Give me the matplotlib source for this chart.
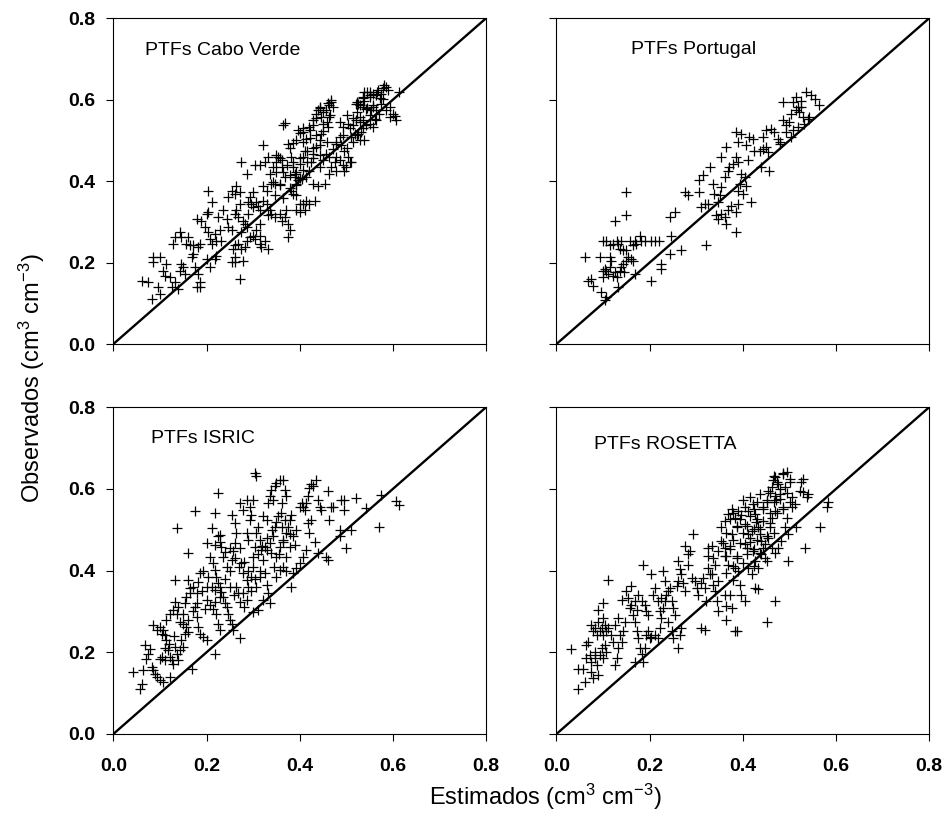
import matplotlib
matplotlib.use("Agg")
import matplotlib.pyplot as plt

# ===== DATA =====
cv_est = [0.061, 0.075, 0.082, 0.086, 0.086, 0.100, 0.096, 0.100, 0.107, 0.111, 0.114, 0.121, 0.125, 0.132, 0.139, 0.143, 0.146, 0.150, 0.154,
          0.132, 0.129, 0.143, 0.146, 0.157, 0.161, 0.164, 0.168, 0.171, 0.175, 0.182, 0.186, 0.179, 0.186, 0.171, 0.182, 0.186,
          0.179, 0.189, 0.196, 0.200, 0.204, 0.204, 0.207, 0.211, 0.200, 0.207, 0.218, 0.221, 0.204, 0.211, 0.225, 0.229, 0.218,
          0.221, 0.232, 0.236, 0.243, 0.246, 0.254, 0.246, 0.254, 0.261, 0.264, 0.271, 0.271, 0.261, 0.264, 0.268, 0.279, 0.275,
          0.282, 0.286, 0.289, 0.289, 0.293, 0.300, 0.296, 0.300, 0.307, 0.311, 0.314, 0.314, 0.307, 0.300, 0.293, 0.286, 0.282,
          0.268, 0.261, 0.257, 0.261, 0.275, 0.279, 0.271, 0.261, 0.254, 0.304, 0.314, 0.325, 0.332, 0.314, 0.318, 0.275, 0.286,
          0.304, 0.314, 0.321, 0.325, 0.332, 0.336, 0.343, 0.350, 0.354, 0.361, 0.361, 0.368, 0.357, 0.346, 0.339, 0.329, 0.321,
          0.321, 0.329, 0.336, 0.332, 0.339, 0.346, 0.357, 0.361, 0.368, 0.371, 0.375, 0.379, 0.375, 0.364, 0.375, 0.382, 0.386,
          0.389, 0.382, 0.386, 0.393, 0.400, 0.407, 0.414, 0.421, 0.432, 0.411, 0.400, 0.393, 0.389, 0.393, 0.396, 0.404, 0.400,
          0.407, 0.411, 0.396, 0.407, 0.414, 0.421, 0.429, 0.436, 0.439, 0.446, 0.443, 0.450, 0.457, 0.464, 0.468, 0.471, 0.464,
          0.461, 0.446, 0.443, 0.436, 0.429, 0.425, 0.421, 0.414, 0.429, 0.439, 0.454, 0.443, 0.450, 0.457, 0.464, 0.468, 0.475,
          0.464, 0.479, 0.486, 0.496, 0.500, 0.511, 0.504, 0.496, 0.489, 0.486, 0.479, 0.471, 0.493, 0.504, 0.514, 0.521, 0.529,
          0.536, 0.543, 0.532, 0.525, 0.518, 0.511, 0.529, 0.539, 0.550, 0.557, 0.561, 0.564, 0.557, 0.543, 0.536, 0.525, 0.521,
          0.539, 0.550, 0.557, 0.564, 0.575, 0.579, 0.582, 0.586, 0.589, 0.593, 0.593, 0.600, 0.604, 0.607, 0.614, 0.539, 0.536,
          0.550, 0.568, 0.575, 0.586, 0.571, 0.564, 0.554,
          # dense core
          0.368, 0.443, 0.451, 0.461, 0.468, 0.436, 0.429, 0.422, 0.408, 0.400, 0.393, 0.386, 0.379, 0.408, 0.422, 0.436, 0.451,
          0.458, 0.465, 0.415, 0.429, 0.443, 0.458, 0.400, 0.415, 0.429, 0.443, 0.386, 0.372, 0.357, 0.350, 0.365, 0.379, 0.393,
          0.408, 0.350, 0.343, 0.357, 0.379, 0.393, 0.400, 0.347, 0.365, 0.479, 0.494, 0.508, 0.479, 0.494, 0.508, 0.486, 0.501,
          0.515, 0.522, 0.529, 0.522, 0.536, 0.551, 0.544, 0.551, 0.529, 0.544, 0.565, 0.572, 0.579, 0.558, 0.522, 0.515, 0.536,
          0.501]
cv_obs = [0.156, 0.152, 0.111, 0.201, 0.213, 0.213, 0.139, 0.123, 0.180, 0.168, 0.197, 0.164, 0.139, 0.152, 0.135, 0.180, 0.197, 0.189, 0.172,
          0.262, 0.246, 0.275, 0.262, 0.246, 0.262, 0.242, 0.213, 0.221, 0.189, 0.172, 0.152, 0.139, 0.139, 0.242, 0.238, 0.246,
          0.307, 0.303, 0.287, 0.320, 0.324, 0.275, 0.258, 0.246, 0.209, 0.189, 0.209, 0.217, 0.377, 0.348, 0.311, 0.279, 0.270,
          0.254, 0.254, 0.328, 0.307, 0.287, 0.279, 0.361, 0.377, 0.369, 0.389, 0.373, 0.344, 0.320, 0.328, 0.311, 0.303, 0.275,
          0.295, 0.287, 0.320, 0.348, 0.361, 0.373, 0.344, 0.336, 0.348, 0.340, 0.328, 0.295, 0.279, 0.266, 0.262, 0.254, 0.238,
          0.246, 0.242, 0.234, 0.213, 0.234, 0.205, 0.160, 0.201, 0.201, 0.258, 0.266, 0.254, 0.234, 0.246, 0.238, 0.447, 0.418,
          0.439, 0.439, 0.488, 0.447, 0.459, 0.418, 0.434, 0.447, 0.459, 0.451, 0.434, 0.410, 0.393, 0.393, 0.393, 0.377, 0.389,
          0.352, 0.344, 0.328, 0.316, 0.320, 0.311, 0.320, 0.303, 0.311, 0.328, 0.295, 0.279, 0.262, 0.537, 0.492, 0.459, 0.434,
          0.410, 0.377, 0.369, 0.365, 0.344, 0.344, 0.352, 0.344, 0.352, 0.328, 0.324, 0.328, 0.418, 0.393, 0.402, 0.406, 0.443,
          0.459, 0.475, 0.525, 0.520, 0.504, 0.533, 0.549, 0.566, 0.574, 0.557, 0.582, 0.541, 0.574, 0.586, 0.594, 0.582, 0.557,
          0.533, 0.516, 0.500, 0.484, 0.467, 0.447, 0.426, 0.410, 0.393, 0.389, 0.393, 0.434, 0.451, 0.467, 0.459, 0.434, 0.447,
          0.418, 0.426, 0.451, 0.426, 0.434, 0.447, 0.459, 0.475, 0.488, 0.508, 0.492, 0.480, 0.533, 0.541, 0.537, 0.549, 0.557,
          0.549, 0.537, 0.520, 0.516, 0.516, 0.508, 0.500, 0.500, 0.541, 0.533, 0.553, 0.574, 0.582, 0.578, 0.582, 0.590, 0.590,
          0.598, 0.607, 0.615, 0.611, 0.615, 0.602, 0.635, 0.631, 0.623, 0.582, 0.557, 0.566, 0.561, 0.549, 0.619, 0.619, 0.607,
          0.619, 0.623, 0.590, 0.574, 0.566, 0.549, 0.574,
          # dense core
          0.542, 0.579, 0.571, 0.591, 0.600, 0.555, 0.538, 0.526, 0.530, 0.518, 0.501, 0.493, 0.481, 0.497, 0.505, 0.514, 0.522,
          0.546, 0.563, 0.473, 0.481, 0.489, 0.497, 0.456, 0.448, 0.456, 0.464, 0.448, 0.440, 0.456, 0.464, 0.423, 0.415, 0.423,
          0.428, 0.423, 0.399, 0.391, 0.382, 0.391, 0.407, 0.366, 0.358, 0.460, 0.440, 0.448, 0.497, 0.514, 0.530, 0.546, 0.563,
          0.555, 0.571, 0.587, 0.595, 0.604, 0.612, 0.579, 0.563, 0.546, 0.620, 0.620, 0.604, 0.628, 0.587, 0.514, 0.497, 0.530,
          0.481]

pt_est = [0.061, 0.068, 0.075, 0.079, 0.093, 0.096, 0.100, 0.104, 0.107, 0.100, 0.104, 0.107, 0.111, 0.114, 0.118, 0.114, 0.121, 0.125,
          0.129, 0.132, 0.136, 0.139, 0.143, 0.146, 0.150, 0.154, 0.161, 0.164, 0.168, 0.100, 0.107, 0.114, 0.121, 0.129, 0.132,
          0.136, 0.139, 0.143, 0.150, 0.157, 0.164, 0.168, 0.171, 0.179, 0.182, 0.189, 0.204, 0.211, 0.221, 0.246, 0.243, 0.225,
          0.225, 0.204, 0.268, 0.321, 0.125, 0.150, 0.150, 0.243, 0.254, 0.275, 0.282, 0.307, 0.311, 0.318, 0.325, 0.307, 0.314,
          0.329, 0.336, 0.339, 0.346, 0.350, 0.354, 0.354, 0.364, 0.343, 0.346, 0.354, 0.361, 0.364, 0.368, 0.375, 0.386, 0.389,
          0.386, 0.418, 0.361, 0.368, 0.371, 0.379, 0.386, 0.389, 0.396, 0.393, 0.389, 0.400, 0.407, 0.411, 0.404, 0.386, 0.389,
          0.396, 0.407, 0.414, 0.421, 0.425, 0.436, 0.443, 0.450, 0.454, 0.439, 0.457, 0.443, 0.450, 0.461, 0.468, 0.475, 0.479,
          0.486, 0.493, 0.500, 0.504, 0.507, 0.514, 0.518, 0.521, 0.525, 0.529, 0.532, 0.539, 0.543, 0.486, 0.507, 0.514, 0.525,
          0.536, 0.546, 0.554, 0.564, 0.504, 0.493, 0.479, 0.518]
pt_obs = [0.213, 0.156, 0.160, 0.143, 0.213, 0.127, 0.164, 0.107, 0.115, 0.180, 0.184, 0.180, 0.172, 0.189, 0.205, 0.213, 0.168, 0.176,
          0.164, 0.139, 0.180, 0.189, 0.197, 0.176, 0.205, 0.213, 0.209, 0.205, 0.172, 0.254, 0.254, 0.242, 0.246, 0.254, 0.246,
          0.234, 0.254, 0.230, 0.230, 0.254, 0.242, 0.254, 0.246, 0.266, 0.254, 0.254, 0.254, 0.254, 0.254, 0.266, 0.221, 0.197,
          0.184, 0.156, 0.230, 0.242, 0.303, 0.373, 0.316, 0.311, 0.324, 0.373, 0.365, 0.373, 0.336, 0.344, 0.344, 0.402, 0.414,
          0.434, 0.393, 0.369, 0.348, 0.365, 0.385, 0.459, 0.484, 0.316, 0.307, 0.320, 0.311, 0.295, 0.328, 0.340, 0.324, 0.344,
          0.275, 0.348, 0.410, 0.426, 0.434, 0.443, 0.459, 0.447, 0.418, 0.393, 0.377, 0.369, 0.389, 0.451, 0.410, 0.520, 0.496,
          0.516, 0.488, 0.508, 0.504, 0.475, 0.475, 0.480, 0.484, 0.471, 0.434, 0.426, 0.508, 0.525, 0.529, 0.520, 0.504, 0.496,
          0.549, 0.537, 0.545, 0.566, 0.525, 0.574, 0.582, 0.570, 0.582, 0.557, 0.541, 0.553, 0.557, 0.594, 0.594, 0.607, 0.598,
          0.619, 0.611, 0.602, 0.586, 0.508, 0.520, 0.492, 0.533]

is_est = [0.043, 0.061, 0.057, 0.064, 0.068, 0.079, 0.071, 0.075, 0.082, 0.086, 0.089, 0.093, 0.100, 0.107, 0.086, 0.093, 0.100, 0.104,
          0.107, 0.111, 0.114, 0.118, 0.121, 0.125, 0.129, 0.132, 0.136, 0.139, 0.143, 0.146, 0.150, 0.154, 0.157, 0.161, 0.121,
          0.104, 0.111, 0.100, 0.114, 0.121, 0.129, 0.132, 0.136, 0.139, 0.143, 0.150, 0.154, 0.157, 0.164, 0.161, 0.164, 0.171,
          0.179, 0.182, 0.186, 0.193, 0.175, 0.179, 0.182, 0.186, 0.193, 0.200, 0.168, 0.218, 0.132, 0.161, 0.136, 0.175, 0.200,
          0.207, 0.211, 0.218, 0.225, 0.214, 0.218, 0.221, 0.225, 0.229, 0.232, 0.236, 0.239, 0.243, 0.246, 0.250, 0.254, 0.257,
          0.271, 0.196, 0.200, 0.207, 0.214, 0.218, 0.221, 0.225, 0.229, 0.211, 0.218, 0.229, 0.204, 0.218, 0.225, 0.229, 0.232,
          0.236, 0.243, 0.250, 0.254, 0.257, 0.261, 0.254, 0.261, 0.264, 0.271, 0.279, 0.286, 0.293, 0.296, 0.300, 0.304, 0.307,
          0.271, 0.275, 0.279, 0.286, 0.289, 0.279, 0.286, 0.264, 0.268, 0.271, 0.296, 0.300, 0.304, 0.307, 0.311, 0.314, 0.318,
          0.321, 0.325, 0.329, 0.332, 0.336, 0.307, 0.314, 0.321, 0.300, 0.311, 0.286, 0.289, 0.293, 0.321, 0.329, 0.332, 0.336,
          0.339, 0.343, 0.346, 0.350, 0.357, 0.364, 0.368, 0.371, 0.361, 0.354, 0.346, 0.343, 0.336, 0.329, 0.325, 0.339, 0.350,
          0.357, 0.364, 0.371, 0.375, 0.379, 0.382, 0.368, 0.361, 0.386, 0.389, 0.393, 0.400, 0.404, 0.407, 0.411, 0.414, 0.418,
          0.421, 0.425, 0.429, 0.436, 0.439, 0.443, 0.446, 0.379, 0.371, 0.364, 0.357, 0.350, 0.371, 0.382, 0.386, 0.393, 0.400,
          0.407, 0.414, 0.421, 0.425, 0.418, 0.432, 0.439, 0.457, 0.461, 0.461, 0.468, 0.464, 0.471, 0.486, 0.489, 0.496, 0.500,
          0.496, 0.486, 0.511, 0.521, 0.543, 0.575, 0.571, 0.607, 0.614,
          # dense core
          0.230, 0.240, 0.250, 0.262, 0.270, 0.280, 0.290, 0.300, 0.310, 0.320, 0.330, 0.340, 0.350, 0.360, 0.240, 0.250, 0.260,
          0.280, 0.295, 0.305, 0.315, 0.345, 0.355, 0.365, 0.380, 0.170, 0.180, 0.190, 0.200, 0.150, 0.160, 0.120, 0.110, 0.130]
is_obs = [0.152, 0.123, 0.111, 0.156, 0.217, 0.209, 0.184, 0.197, 0.164, 0.156, 0.148, 0.139, 0.131, 0.127, 0.266, 0.254, 0.262, 0.246,
          0.254, 0.242, 0.230, 0.205, 0.189, 0.180, 0.172, 0.213, 0.197, 0.180, 0.205, 0.230, 0.213, 0.246, 0.262, 0.279, 0.139,
          0.189, 0.180, 0.184, 0.279, 0.295, 0.303, 0.324, 0.295, 0.311, 0.275, 0.295, 0.320, 0.336, 0.344, 0.377, 0.357, 0.361,
          0.344, 0.373, 0.393, 0.398, 0.311, 0.287, 0.262, 0.246, 0.238, 0.230, 0.160, 0.197, 0.377, 0.443, 0.504, 0.545, 0.467,
          0.434, 0.504, 0.541, 0.590, 0.418, 0.402, 0.385, 0.369, 0.361, 0.348, 0.336, 0.320, 0.311, 0.295, 0.279, 0.270, 0.254,
          0.234, 0.307, 0.328, 0.316, 0.307, 0.324, 0.295, 0.270, 0.254, 0.361, 0.352, 0.336, 0.385, 0.463, 0.484, 0.488, 0.459,
          0.434, 0.410, 0.398, 0.426, 0.447, 0.467, 0.537, 0.516, 0.492, 0.566, 0.549, 0.574, 0.557, 0.537, 0.574, 0.639, 0.631,
          0.455, 0.418, 0.393, 0.377, 0.361, 0.344, 0.328, 0.361, 0.344, 0.324, 0.385, 0.434, 0.459, 0.492, 0.508, 0.475, 0.451,
          0.426, 0.393, 0.365, 0.344, 0.320, 0.361, 0.385, 0.328, 0.299, 0.303, 0.492, 0.475, 0.525, 0.533, 0.525, 0.566, 0.582,
          0.598, 0.574, 0.607, 0.615, 0.623, 0.623, 0.598, 0.582, 0.566, 0.533, 0.508, 0.484, 0.467, 0.451, 0.459, 0.443, 0.434,
          0.459, 0.475, 0.492, 0.508, 0.525, 0.537, 0.525, 0.508, 0.484, 0.463, 0.500, 0.557, 0.566, 0.557, 0.549, 0.566, 0.582,
          0.602, 0.611, 0.607, 0.623, 0.574, 0.557, 0.549, 0.459, 0.434, 0.410, 0.402, 0.385, 0.398, 0.361, 0.393, 0.406, 0.418,
          0.434, 0.451, 0.492, 0.525, 0.516, 0.471, 0.443, 0.434, 0.426, 0.594, 0.557, 0.525, 0.557, 0.500, 0.574, 0.574, 0.455,
          0.549, 0.484, 0.500, 0.578, 0.553, 0.586, 0.508, 0.570, 0.561,
          # dense core
          0.470, 0.445, 0.455, 0.430, 0.410, 0.420, 0.400, 0.410, 0.440, 0.460, 0.480, 0.500, 0.520, 0.540, 0.380, 0.360, 0.340,
          0.310, 0.350, 0.380, 0.400, 0.410, 0.440, 0.470, 0.490, 0.300, 0.320, 0.350, 0.360, 0.270, 0.250, 0.220, 0.210, 0.240]

ro_est = [0.032, 0.047, 0.047, 0.057, 0.061, 0.064, 0.064, 0.068, 0.072, 0.075, 0.075, 0.079, 0.082, 0.082, 0.086, 0.089, 0.093, 0.097,
          0.100, 0.100, 0.104, 0.107, 0.075, 0.079, 0.082, 0.086, 0.089, 0.093, 0.097, 0.100, 0.104, 0.107, 0.111, 0.118, 0.122,
          0.125, 0.129, 0.132, 0.136, 0.140, 0.143, 0.147, 0.089, 0.100, 0.111, 0.125, 0.132, 0.140, 0.150, 0.154, 0.157, 0.161,
          0.165, 0.168, 0.172, 0.175, 0.179, 0.183, 0.186, 0.168, 0.190, 0.193, 0.197, 0.200, 0.204, 0.211, 0.218, 0.222, 0.225,
          0.229, 0.233, 0.236, 0.240, 0.247, 0.251, 0.261, 0.265, 0.268, 0.161, 0.168, 0.172, 0.175, 0.183, 0.186, 0.190, 0.193,
          0.197, 0.204, 0.208, 0.211, 0.218, 0.222, 0.225, 0.229, 0.233, 0.240, 0.243, 0.247, 0.251, 0.254, 0.258, 0.261, 0.261,
          0.265, 0.268, 0.272, 0.276, 0.276, 0.283, 0.283, 0.286, 0.290, 0.293, 0.297, 0.301, 0.304, 0.311, 0.315, 0.319, 0.322,
          0.326, 0.329, 0.333, 0.336, 0.340, 0.344, 0.347, 0.347, 0.340, 0.336, 0.326, 0.326, 0.333, 0.319, 0.311, 0.361, 0.365,
          0.365, 0.387, 0.376, 0.372, 0.379, 0.383, 0.387, 0.390, 0.394, 0.397, 0.404, 0.354, 0.347, 0.361, 0.365, 0.369, 0.372,
          0.376, 0.354, 0.361, 0.369, 0.376, 0.383, 0.387, 0.390, 0.397, 0.404, 0.412, 0.419, 0.415, 0.422, 0.426, 0.433, 0.419,
          0.412, 0.408, 0.404, 0.426, 0.433, 0.401, 0.404, 0.412, 0.415, 0.422, 0.426, 0.429, 0.433, 0.437, 0.440, 0.444, 0.447,
          0.451, 0.440, 0.447, 0.455, 0.458, 0.462, 0.469, 0.472, 0.451, 0.444, 0.437, 0.455, 0.462, 0.465, 0.469, 0.476, 0.480,
          0.487, 0.494, 0.498, 0.490, 0.483, 0.476, 0.469, 0.462, 0.487, 0.490, 0.494, 0.501, 0.505, 0.512, 0.505, 0.498, 0.515,
          0.526, 0.530, 0.537, 0.533, 0.469, 0.451, 0.383, 0.540, 0.566, 0.583, 0.580,
          # dense core
          0.466, 0.473, 0.480, 0.469, 0.458, 0.451, 0.466, 0.480, 0.487, 0.473, 0.458, 0.444, 0.430, 0.423, 0.415, 0.430, 0.444,
          0.458, 0.437, 0.423, 0.408, 0.394, 0.380, 0.372, 0.387, 0.401, 0.415, 0.430, 0.451, 0.466, 0.365, 0.380, 0.394, 0.408,
          0.372, 0.358, 0.362, 0.387, 0.423, 0.437, 0.401, 0.380, 0.365, 0.423, 0.494, 0.501, 0.487, 0.501, 0.523, 0.530]
ro_obs = [0.208, 0.160, 0.111, 0.160, 0.127, 0.185, 0.218, 0.226, 0.193, 0.177, 0.152, 0.136, 0.185, 0.201, 0.169, 0.144, 0.193, 0.210,
          0.185, 0.243, 0.218, 0.201, 0.267, 0.251, 0.259, 0.243, 0.275, 0.251, 0.259, 0.284, 0.267, 0.251, 0.259, 0.243, 0.226,
          0.169, 0.185, 0.210, 0.243, 0.226, 0.251, 0.275, 0.304, 0.321, 0.378, 0.267, 0.284, 0.329, 0.350, 0.333, 0.308, 0.362,
          0.292, 0.275, 0.251, 0.234, 0.210, 0.197, 0.177, 0.177, 0.210, 0.243, 0.251, 0.234, 0.238, 0.243, 0.234, 0.259, 0.284,
          0.308, 0.325, 0.341, 0.275, 0.251, 0.234, 0.210, 0.243, 0.259, 0.317, 0.325, 0.304, 0.341, 0.325, 0.415, 0.317, 0.300,
          0.292, 0.391, 0.341, 0.358, 0.325, 0.300, 0.333, 0.399, 0.374, 0.350, 0.358, 0.325, 0.308, 0.292, 0.362, 0.374, 0.424,
          0.403, 0.391, 0.370, 0.350, 0.461, 0.440, 0.415, 0.448, 0.382, 0.489, 0.374, 0.358, 0.341, 0.370, 0.382, 0.358, 0.325,
          0.407, 0.391, 0.391, 0.366, 0.350, 0.325, 0.300, 0.374, 0.415, 0.432, 0.456, 0.436, 0.461, 0.255, 0.259, 0.341, 0.313,
          0.280, 0.251, 0.308, 0.341, 0.378, 0.407, 0.432, 0.399, 0.366, 0.341, 0.325, 0.473, 0.448, 0.456, 0.436, 0.415, 0.461,
          0.489, 0.506, 0.522, 0.539, 0.551, 0.530, 0.506, 0.547, 0.535, 0.514, 0.489, 0.498, 0.469, 0.448, 0.424, 0.407, 0.391,
          0.407, 0.440, 0.465, 0.358, 0.354, 0.572, 0.555, 0.547, 0.580, 0.563, 0.539, 0.518, 0.506, 0.489, 0.473, 0.456, 0.432,
          0.424, 0.440, 0.465, 0.481, 0.506, 0.530, 0.547, 0.572, 0.572, 0.555, 0.588, 0.596, 0.604, 0.621, 0.629, 0.613, 0.588,
          0.555, 0.530, 0.489, 0.506, 0.473, 0.456, 0.444, 0.456, 0.637, 0.604, 0.641, 0.617, 0.580, 0.563, 0.555, 0.424, 0.506,
          0.617, 0.592, 0.580, 0.456, 0.325, 0.275, 0.251, 0.588, 0.506, 0.567, 0.555,
          # dense core
          0.632, 0.616, 0.599, 0.583, 0.591, 0.567, 0.567, 0.575, 0.550, 0.542, 0.542, 0.550, 0.567, 0.550, 0.534, 0.526, 0.521,
          0.517, 0.501, 0.501, 0.509, 0.526, 0.542, 0.526, 0.509, 0.493, 0.480, 0.476, 0.485, 0.493, 0.493, 0.476, 0.468, 0.456,
          0.452, 0.468, 0.435, 0.435, 0.452, 0.444, 0.419, 0.411, 0.394, 0.411, 0.591, 0.624, 0.640, 0.567, 0.595, 0.624]

panel_titles = ["PTFs Cabo Verde", "PTFs Portugal", "PTFs ISRIC", "PTFs ROSETTA"]
axis_ticks = [0.0, 0.2, 0.4, 0.6, 0.8]
line_1to1 = [0.0, 0.8]

# ===== STYLE =====
plt.rcParams['font.family'] = ['Liberation Sans', 'DejaVu Sans']
plt.rcParams['mathtext.fontset'] = 'custom'
plt.rcParams['mathtext.rm'] = 'Liberation Sans'
plt.rcParams['mathtext.it'] = 'Liberation Sans:italic'
plt.rcParams['mathtext.bf'] = 'Liberation Sans:bold'

fig = plt.figure(figsize=(9.43, 8.16), dpi=100)

# axes boxes in figure fractions [left, bottom, width, height]
boxes = [
    [0.1202, 0.5784, 0.3952, 0.3992],
    [0.5901, 0.5784, 0.3952, 0.3992],
    [0.1202, 0.1005, 0.3952, 0.4004],
    [0.5901, 0.1005, 0.3952, 0.4004],
]
series = [(cv_est, cv_obs), (pt_est, pt_obs), (is_est, is_obs), (ro_est, ro_obs)]
title_pos = [(0.068, 0.722), (0.161, 0.724), (0.080, 0.724), (0.081, 0.710)]

for i, (box, (xs, ys)) in enumerate(zip(boxes, series)):
    ax = fig.add_axes(box)
    ax.plot(line_1to1, line_1to1, color='black', lw=1.7, zorder=3)
    ax.plot(xs, ys, linestyle='none', marker='+', color='black',
            markersize=7, markeredgewidth=0.9, zorder=2)

    ax.set_xlim(0, 0.8)
    ax.set_ylim(0, 0.8)
    ax.set_xticks(axis_ticks)
    ax.set_yticks(axis_ticks)
    ax.tick_params(direction='out', length=5, width=0.8, top=False, right=False)
    ax.tick_params(axis='y', pad=8)
    ax.tick_params(axis='x', pad=12)

    for sp in ax.spines.values():
        sp.set_linewidth(0.8)

    # tick labels only on outer panels
    if i in (0, 2):
        ax.set_yticklabels([f"{t:.1f}" for t in axis_ticks], fontsize=14, fontweight='bold')
    else:
        ax.set_yticklabels([])
    if i in (2, 3):
        ax.set_xticklabels([f"{t:.1f}" for t in axis_ticks], fontsize=14, fontweight='bold')
    else:
        ax.set_xticklabels([])

    tx, ty = title_pos[i]
    ax.text(tx, ty, panel_titles[i], fontsize=14, va='center', ha='left')

fig.text(0.578, 0.014, "Estimados (cm$^3$ cm$^{-3}$)", fontsize=17, ha='center', va='baseline')
fig.text(0.018, 0.537, "Observados (cm$^3$ cm$^{-3}$)", fontsize=17, ha='left', va='center',
         rotation=90)

fig.savefig("out.png", dpi=100)
